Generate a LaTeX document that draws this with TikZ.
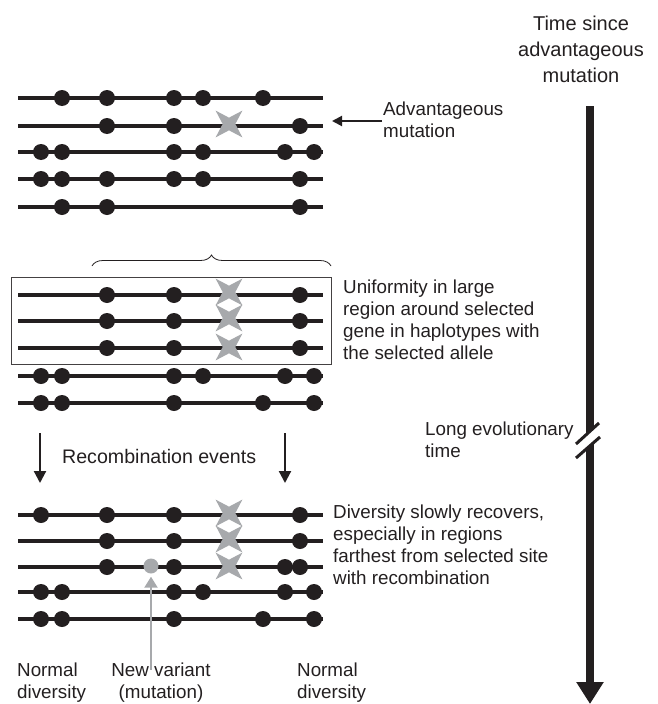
\documentclass[tikz,border=0pt]{standalone}
\usepackage{fontspec}
\setmainfont{Liberation Sans}
\usetikzlibrary{arrows.meta,shapes.geometric,decorations.pathreplacing}
\definecolor{ink}{HTML}{231F20}
\definecolor{mutgray}{HTML}{A7A9AC}
\tikzset{
    snp/.style = {
        circle, fill=ink, minimum size=16pt, inner sep=0
    },
    newsnp/.style = {
        circle, fill=mutgray, minimum size=15pt, inner sep=0
    },
    selected/.style = {
        star, star points=4, star point ratio=3.0, shape border rotate=45,
        fill=mutgray, minimum size=38pt, inner sep=0
    },
    haplo/.style = {draw=ink, line width=4pt},
    caption/.style = {
        font=\fontsize{18.8}{22}\selectfont, text=ink, align=left,
        inner sep=0, anchor=north west
    },
    ptr/.style = {draw=ink, line width=2.2pt, -{Triangle[width=12pt,length=12pt]}}
}

\begin{document}
\begin{tikzpicture}[x=1pt, y=-1pt]
    \useasboundingbox (0,0) rectangle (658,704);
    % haplotypes: row / height / sites
    \foreach \row/\yy/\sites in {
        1/98/{62,107,174,203,263}, 2/126/{107,174,300},
        3/152/{41,62,174,203,285,314}, 4/179/{41,62,107,174,203,300},
        5/207/{62,107,300},
        6/295/{107,174,300}, 7/321/{107,174,300}, 8/348/{107,174,300},
        9/376/{41,62,174,203,285,314}, 10/403/{41,62,174,263,314},
        11/515/{41,107,174,300}, 12/541/{107,174,300},
        13/567/{107,174,285,300}, 14/592/{41,62,174,203,285,314},
        15/619/{41,62,174,263,314}}
    {
        \coordinate (h\row-w) at (18,\yy);
        \coordinate (h\row-e) at (323,\yy);
        \draw[haplo] (h\row-w) -- (h\row-e);
        \foreach \xx in \sites
            \node[snp] (s\row-\xx) at (\xx,\yy) {};
    }
    \node[newsnp] (s13-151) at (151,566) {};
    \foreach \row/\yy in {2/124, 6/292, 7/318, 8/347, 11/513, 12/539, 13/566}
        \node[selected] (x\row) at (229,\yy) {};

    % selected haplotypes
    \draw[ink!85, line width=1pt] (11,277) rectangle (331,364);
    \draw[ink, line width=0.8pt, decorate, decoration={brace, amplitude=11pt}]
        (92,266) -- (331,266);

    \node[caption] (adv) at (383,101.5) {Advantageous\\mutation};
    \coordinate (adv-tip) at (332,121);
    \draw[ptr, line width=2pt, -{Triangle[width=10pt,length=10pt]}]
        ([xshift=-1pt]adv.west |- adv-tip) -- (adv-tip);

    \node[caption] (unif) at (343,279.6)
        {Uniformity in large\\region around selected\\gene in haplotypes with\\the selected allele};
    \node[caption] (recov) at (333,504.6)
        {Diversity slowly recovers,\\especially in regions\\farthest from selected site\\with recombination};
    \node[caption] (longtime) at (425,421.6) {Long evolutionary\\time};

    \node[caption, anchor=base west, font=\fontsize{19.6}{22}\selectfont] (recomb)
        at (62,463) {Recombination events};
    \coordinate (rc1-top) at (40,433);
    \coordinate (rc1-bot) at (40,483);
    \coordinate (rc2-top) at (285,433);
    \coordinate (rc2-bot) at (285,483);
    \draw[ptr] (rc1-top) -- (rc1-bot);
    \draw[ptr] (rc2-top) -- (rc2-bot);

    \node[caption] (normal-l) at (17,662.8) {Normal\\diversity};
    \node[caption, align=center, anchor=north] (newvar) at (161,662.8) {New variant\\(mutation)};
    \node[caption] (normal-r) at (297,662.8) {Normal\\diversity};
    \draw[mutgray, line width=2.2pt, -{Triangle[width=13pt,length=11pt]}]
        ([yshift=-7pt]s13-151 |- newvar.north) -- ([yshift=-3pt]s13-151.south);

    % time axis
    \node[font=\fontsize{20}{26}\selectfont, text=ink, align=center, inner sep=0,
        anchor=north] (since) at (581,15.7) {Time since\\advantageous\\mutation};
    \coordinate (t-top) at (590,106);
    \coordinate (t-end) at (590,704);
    \draw[ink, line width=8.5pt, -{Triangle[width=26pt,length=22pt]}] (t-top) -- (t-end);
    \fill[white] (580,440.3) -- (598,423.9) -- (598,438.75) -- (580,454.5) -- cycle;
    \draw[ink, line width=3pt] (576,444) -- (599,423);
    \draw[ink, line width=3pt] (576,458) -- (600,437);
\end{tikzpicture}
\end{document}
